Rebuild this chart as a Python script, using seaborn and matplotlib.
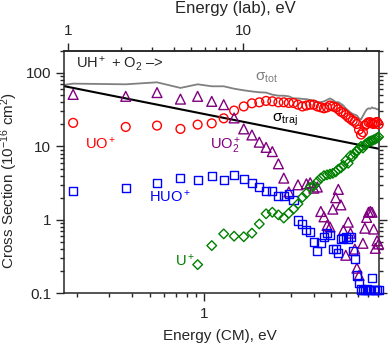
import numpy as np
import pandas as pd
import matplotlib
matplotlib.use("Agg")
from matplotlib import pyplot as plt
from matplotlib import ticker
import seaborn as sns

# Collision energy (CM), eV
energy_cm = [0.19, 0.37, 0.55, 0.74, 0.92, 1.10, 1.28, 1.46, 1.65, 1.83,
             2.01, 2.19, 2.37, 2.56, 2.74, 2.92, 3.10, 3.28, 3.47, 3.65,
             3.83, 4.01, 4.19, 4.38, 4.56, 4.74, 4.92, 5.10, 5.29, 5.47,
             5.65, 5.83, 6.01, 6.20, 6.38, 6.56, 6.74, 6.92, 7.11, 7.29,
             7.47, 7.65, 7.83, 8.02, 8.20, 8.38, 8.56, 8.74, 8.93, 9.11]

nan = np.nan

# Product cross sections, 10^-16 cm^2
uo_plus = [20.9, 18.4, 19.2, 17.3, 19.8, 20.6, 24.1, 30.7, 35.0, 38.6,
           39.8, 41.6, 41.1, 39.8, 39.8, 39.0, 39.0, 37.0, 35.0, 36.0,
           37.0, 37.0, 35.0, 34.0, 33.0, 34.0, 36.0, 35.0, 34.0, 32.0,
           29.7, 28.5, 26.8, 24.9, 23.7, 22.4, 21.7, 20.2, 16.9, 14.5,
           15.6, 19.2, 20.2, 21.3, 21.3, 20.6, 20.2, 21.0, 21.5, 20.0]

uo2_plus = [51, 48, 54, 44, 48, 41, 37, 24.4, 17.3, 14.3,
            11.4, 9.7, 8.5, 5.8, 3.7, 2.4, nan, 3.0, nan, 3.1,
            3.2, 2.7, 2.8, 1.3, 1.1, 0.84, 0.80, 1.4, 2.0, 2.6,
            1.6, 0.72, 0.33, 0.93, 0.66, nan, 0.40, 0.22, 0.175, nan,
            0.48, 0.77, 1.08, 1.27, 1.30, 1.27, 0.75, 0.41, 0.52, 0.47]

huo_plus = [2.5, 2.69, 3.15, 3.68, 3.53, 3.92, 3.5, 4.05, 3.6, 3.15,
            2.78, 2.45, 2.45, 2.14, 2.14, 2.26, 1.87, 0.98, 0.88, 0.72,
            0.68, 0.50, 0.38, 0.48, 0.58, 0.66, 0.62, 0.40, 0.40, 0.35,
            0.55, 0.56, 0.59, 0.55, 0.58, 0.38, 0.29, 0.175, 0.14, 0.113,
            0.11, 0.11, 0.115, 0.11, 0.11, 0.16, 0.11, 0.11, 0.11, 0.11]

u_plus = [nan, nan, nan, nan, 0.246, 0.447, 0.645, 0.60, 0.59, 0.66,
          0.88, 1.21, 1.27, 1.17, 1.06, 1.23, 1.41, 1.65, 2.03, 2.3,
          2.78, 2.9, 3.3, 3.7, 4.0, 4.1, 4.2, 4.3, 4.5, 4.9,
          5.1, 5.5, 6.4, 5.9, 7.5, 7.3, 8.0, 8.8, 9.2, 10.0,
          9.5, 10.5, 11.0, 11.5, 11.8, 12.0, 12.3, 12.6, 13.0, 13.5]

# Total cross section (gray line)
tot_energy = [0.17] + energy_cm
sigma_tot = [68.7, 71.5, 70, 74.5, 62.5, 70, 65.8, 65.8, 61, 58,
             56, 54.5, 54, 50.6, 49, 49, 48, 45, 45, 44.3,
             44, 42.8, 42, 40, 40, 41, 43, 45, 43, 40,
             40, 38, 36, 33, 30.7, 29, 27.7, 27, 26.3, 24,
             23.3, 26, 29, 31.7, 33, 32.5, 34, 33, 33, 32, 32]

# Trajectory (capture) cross section, end points of the line
traj_energy = [0.17, 9.12]
sigma_traj = [66, 9.3]

# lab-energy axis ticks
lab_major = [1, 10]
lab_minor = [2, 3, 4, 5, 6, 7, 8, 9, 20, 30, 40, 50]

df = pd.DataFrame({"energy": energy_cm, "UO+": uo_plus, "UO2+": uo2_plus,
                   "HUO+": huo_plus, "U+": u_plus})

sns.set_style("ticks")
plt.rcParams["font.family"] = ["Liberation Sans", "DejaVu Sans"]
plt.rcParams["mathtext.fontset"] = "custom"
plt.rcParams["mathtext.rm"] = "Liberation Sans"
plt.rcParams["mathtext.it"] = "Liberation Sans:italic"
plt.rcParams["mathtext.default"] = "regular"
plt.rcParams["axes.linewidth"] = 1.1

fig, ax = plt.subplots(figsize=(3.9, 3.48), dpi=100)
fig.subplots_adjust(left=0.165, right=0.971, bottom=0.157, top=0.854)
ax.set_xscale("log")
ax.set_yscale("log")

sns.lineplot(x=tot_energy, y=sigma_tot, color="#808080", linewidth=1.3, ax=ax)
sns.lineplot(x=traj_energy, y=sigma_traj, color="black", linewidth=1.5, ax=ax)

series = [("UO+", "o", "#ff0000", 40),
          ("UO2+", "^", "#800080", 50),
          ("HUO+", "s", "#0000ff", 34),
          ("U+", "D", "#008000", 24)]
for name, mk, col, size in series:
    sns.scatterplot(data=df, x="energy", y=name, marker=mk, s=size,
                    color=col, edgecolor=col, facecolor="none",
                    linewidth=1.0, clip_on=False, zorder=3, ax=ax)

ax.set_xlim(0.17, 9.12)
ax.set_ylim(0.1, 200)

fmt = ticker.FuncFormatter(lambda v, pos: f"{v:g}")
ax.xaxis.set_major_formatter(fmt)
ax.yaxis.set_major_formatter(fmt)
ax.xaxis.set_minor_locator(ticker.LogLocator(base=10, subs=np.arange(2, 10), numticks=20))
ax.yaxis.set_minor_locator(ticker.LogLocator(base=10, subs=np.arange(2, 10), numticks=20))
ax.xaxis.set_minor_formatter(ticker.NullFormatter())
ax.yaxis.set_minor_formatter(ticker.NullFormatter())
ax.tick_params(which="both", direction="out", right=True, top=False,
               labelsize=11, width=1)
ax.tick_params(which="major", length=6)
ax.tick_params(which="minor", length=3)
ax.tick_params(axis="x", pad=4)


# top axis: lab energy
def cm_to_lab(e):
    e = np.clip(e, 1e-12, None)
    return 10 ** (0.7762 + 1.0364 * np.log10(e))


def lab_to_cm(e):
    e = np.clip(e, 1e-12, None)
    return 10 ** ((np.log10(e) - 0.7762) / 1.0364)


secax = ax.secondary_xaxis("top", functions=(cm_to_lab, lab_to_cm))
secax.xaxis.set_major_locator(ticker.FixedLocator(lab_major))
secax.xaxis.set_minor_locator(ticker.FixedLocator(lab_minor))
secax.xaxis.set_major_formatter(fmt)
secax.xaxis.set_minor_formatter(ticker.NullFormatter())
secax.tick_params(which="both", direction="out", labelsize=11, width=1, pad=3)
secax.tick_params(which="major", length=6)
secax.tick_params(which="minor", length=3)

ax.set_xlabel("Energy (CM), eV", fontsize=11)
ax.xaxis.set_label_coords(0.495, -0.146)
ax.set_ylabel("Cross Section (10$^{-16}$ cm$^2$)", fontsize=11)
ax.yaxis.set_label_coords(-0.14, 0.467)
fig.text(235 / 390, 1 - 13 / 348, "Energy (lab), eV", ha="center",
         va="baseline", fontsize=12)

# labels inside the plot
ax.text(0.037, 0.930, "UH$^+$ + O$_2$ –>", transform=ax.transAxes,
        fontsize=10.5, va="baseline")
ax.text(0.066, 0.595, "UO$^+$", color="#ff0000", transform=ax.transAxes,
        fontsize=10.5, va="baseline")
ax.text(0.4636, 0.594, "UO$_2^+$", color="#800080", transform=ax.transAxes,
        fontsize=10.5, va="baseline")
ax.text(0.268, 0.378, "HUO$^+$", color="#0000ff", transform=ax.transAxes,
        fontsize=10.5, va="baseline")
ax.text(0.352, 0.114, "U$^+$", color="#008000", transform=ax.transAxes,
        fontsize=10.5, va="baseline")
ax.text(0.607, 0.879, r"$\sigma_{tot}$", color="#808080", transform=ax.transAxes,
        fontsize=11, va="baseline")
ax.text(0.660, 0.707, r"$\sigma_{traj}$", color="black", transform=ax.transAxes,
        fontsize=11, va="baseline")

plt.savefig("out.png", dpi=100)
